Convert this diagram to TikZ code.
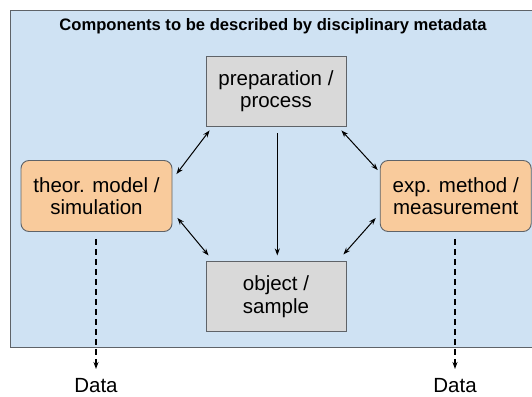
\documentclass[tikz,border=0pt]{standalone}
\usepackage{fontspec}
\setmainfont{Liberation Sans}
\usetikzlibrary{
  arrows.meta,
  positioning,  % Function "of" (e.g. [below=of x])
}
\definecolor{panelblue}{HTML}{CFE2F3}
\definecolor{boxgray}{HTML}{D9D9D9}
\definecolor{boxorange}{HTML}{F9CB9C}
\definecolor{edgegray}{HTML}{5F6368}
\newcommand{\boxsize}{\fontsize{20.5}{22.5}\selectfont}
\tikzset{
  >={Stealth[length=7pt,width=5pt]},
  my panel/.style={
    fill=panelblue,
    draw=edgegray,
    line width=1pt
  },
  my box/.style={
    draw=edgegray,
    fill=boxgray,
    line width=0.9pt,
    minimum width=140pt,
    minimum height=70pt,
    inner sep=0pt,
    align=center,
    font=\boxsize
  },
  my rbox/.style={
    my box,
    fill=boxorange,
    minimum width=151pt,
    minimum height=71pt,
    rounded corners=8pt
  },
  link/.style={
    line width=1pt
  },
  data link/.style={
    ->,
    line width=1.2pt,
    dash pattern=on 6pt off 4pt
  }
}

\begin{document}
\begin{tikzpicture}[x=1pt,y=-1pt]
\useasboundingbox (0,0) rectangle (532,396);
% Blue panel, cut at the right edge
\begin{scope}
  \clip (0,0) rectangle (532,396);
  \draw[my panel] (10,11) rectangle (560,347);
\end{scope}
\node[font=\bfseries\fontsize{16.6}{19}\selectfont] (title) at (273,26)
  {Components to be described by disciplinary metadata};
% Centre column
\node[my box]                 (prep) at (276,91) {preparation /\\process};
\node[my box,below=135pt of prep] (obj)            {object /\\sample};
% Side boxes
\node[my rbox] (theor) at (96.5,196)  {theor. model /\\simulation};
\node[my rbox] (exp)   at (455.7,196) {exp. method /\\measurement};
% Connectors
\draw[link,<->] ([shift={(4,4)}]prep.south west)   -- ([shift={(4,14)}]theor.north east);
\draw[link,<->] ([shift={(-5,4)}]prep.south east)  -- ([shift={(-2,10)}]exp.north west);
\draw[link,<->] ([shift={(5,-14)}]theor.south east) -- ([shift={(3,-6)}]obj.north west);
\draw[link,<->] ([shift={(-4,-14)}]exp.south west)  -- ([shift={(-3,-7)}]obj.north east);
\draw[link,->]  ([shift={(1.3,7)}]prep.south)      -- ([shift={(1.3,-6)}]obj.north);
% Data outputs
\coordinate (end1) at (96,369);
\coordinate (end2) at (455,369);
\draw[data link] ([yshift=-7pt]theor.south -| end1) -- (end1);
\draw[data link] ([yshift=-7pt]exp.south -| end2)   -- (end2);
\node[anchor=base,font=\boxsize,inner ysep=1pt] (data1) at (96,392)  {Data};
\node[anchor=base,font=\boxsize,inner ysep=1pt] (data2) at (455,392) {Data};
\end{tikzpicture}
\end{document}
